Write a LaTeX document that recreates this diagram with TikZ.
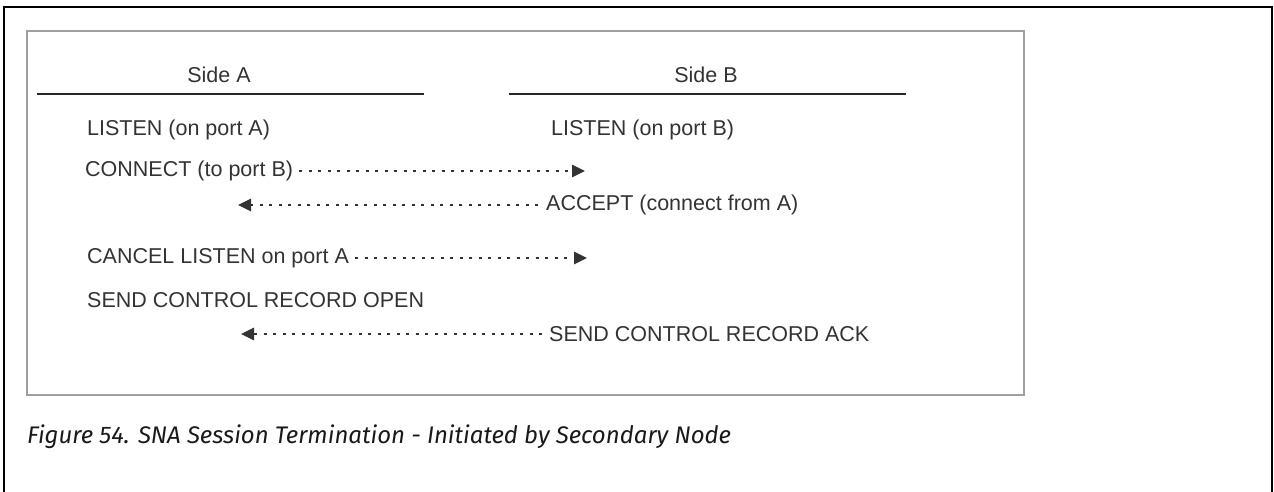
\documentclass[tikz,border=0pt]{standalone}
\usepackage{fontspec}
\setmainfont{Liberation Sans}
\newfontfamily\capfont{Fira Sans}
\usetikzlibrary{arrows.meta}
\definecolor{txt}{HTML}{333333}
\definecolor{boxgray}{HTML}{A0A0A0}
\tikzset{
  lbl/.style={anchor=west, inner sep=0pt, text=txt, font=\fontsize{21.5}{25}\selectfont},
  head/.style={inner sep=0pt, text=txt, font=\fontsize{21.5}{25}\selectfont},
  msg/.style={draw=txt, line width=1.4pt, dash pattern=on 3pt off 6.5pt, -{Triangle[length=13pt,width=12.5pt]}},
  rule/.style={draw=black!85, line width=2pt}
}
\begin{document}
\begin{tikzpicture}[x=1pt,y=-1pt]
\useasboundingbox (0,0) rectangle (1274,491);
% outer frame (open at bottom)
\draw[black, line width=2.6pt] (4,495) -- (4,7) -- (1272,7) -- (1272,495);
% inner box
\node[draw=boxgray, line width=2pt, minimum width=997pt, minimum height=364pt, anchor=north west, inner sep=0pt] (frame) at (26,30) {};
% headers
\node[head] (sa) at (219,75) {Side A};
\node[head] (sb) at (706,75) {Side B};
\coordinate (la1) at (37,94); \coordinate (la2) at (424,94);
\coordinate (lb1) at (509,94); \coordinate (lb2) at (906,94);
\draw[rule] (la1) -- (la2);
\draw[rule] (lb1) -- (lb2);
% side A labels
\node[lbl] (lisa) at (87,130) {LISTEN (on port A)};
\node[lbl] (con) at (85,171) {CONNECT (to port B)};
\node[lbl] (can) at (87,258) {CANCEL LISTEN on port A};
\node[lbl] (open) at (87,300) {SEND CONTROL RECORD OPEN};
% side B labels
\node[lbl] (lisb) at (551,130) {LISTEN (on port B)};
\node[lbl] (acc) at (546,205) {ACCEPT (connect from A)};
\node[lbl] (ack) at (549,334) {SEND CONTROL RECORD ACK};
% arrow ends
\coordinate (t1) at (585,171);
\coordinate (t2) at (238,205);
\coordinate (t3) at (587,258);
\coordinate (t4) at (241,334);
\draw[msg] ([xshift=6pt]con.east) -- (t1);
\draw[msg] ([xshift=-8pt]acc.west) -- (t2);
\draw[msg] ([xshift=6pt]can.east) -- (t3);
\draw[msg] ([xshift=-7pt]ack.west) -- (t4);
% caption
\node[anchor=west, inner sep=0pt, text=black!90, font=\capfont\itshape\fontsize{24}{28}\selectfont] (cap) at (27,437) {Figure 54. SNA Session Termination - Initiated by Secondary Node};
\end{tikzpicture}
\end{document}
